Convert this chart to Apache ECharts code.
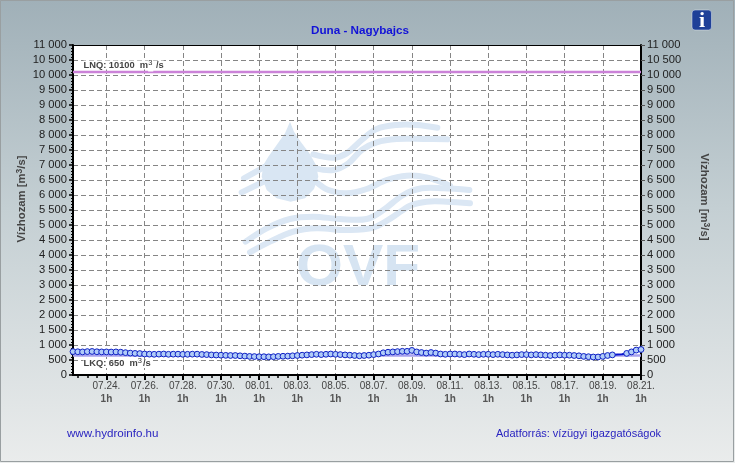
<!DOCTYPE html>
<html>
<head>
<meta charset="utf-8">
<style>html,body{margin:0;padding:0;background:#e8eaea}#c{width:735px;height:463px}</style>
<script src="https://cdn.jsdelivr.net/npm/echarts@6/dist/echarts.min.js"></script>
</head>
<body>
<div id="c"></div>
<script>
const days = ['07.22.','07.23.','07.24.','07.25.','07.26.','07.27.','07.28.','07.29.','07.30.','07.31.',
  '08.01.','08.02.','08.03.','08.04.','08.05.','08.06.','08.07.','08.08.','08.09.','08.10.','08.11.',
  '08.12.','08.13.','08.14.','08.15.','08.16.','08.17.','08.18.','08.19.','08.20.','08.21.'];
const hours = ['1h','7h','13h','19h'];
const discharge = [
  780,775,770,780,785,775,770,770,
  765,770,760,745,730,720,715,700,
  695,690,695,700,690,695,695,690,
  690,695,695,685,680,670,665,660,
  655,650,650,640,630,620,615,610,
  610,605,610,620,625,630,640,650,
  660,670,680,690,680,690,700,690,
  680,670,660,650,640,650,660,680,
  700,740,760,770,780,790,790,820,
  770,750,730,750,730,700,690,700,
  700,690,680,700,690,680,690,690,
  680,690,680,670,660,670,680,680,
  670,680,670,660,650,660,670,660,
  660,650,640,620,610,600,600,620,
  650,670,680,690,720,770,830,850];
const unmarked = [114,115];
const lnq = 10100;
const lkq = 650;
const yMax = 11000;
const yStep = 500;
const title = 'Duna - Nagybajcs';
const axisTitle = 'Vízhozam [m';
const leftNote = 'www.hydroinfo.hu';
const rightNote = 'Adatforrás: vízügyi igazgatóságok';

const categories = discharge.map((_, i) => days[Math.floor((i + 1) / 4)] + '\n' + hours[(i + 1) % 4]);
const isMajor = i => i % 8 === 7;
const isMinor = i => i % 2 === 1;
const fmt = v => String(v).replace(/\B(?=(\d{3})+$)/g, ' ');
const FONT = '"Liberation Sans", Arial, sans-serif';

const supRich = {
  n: {fontFamily: FONT, fontSize: 9.3, color: '#444', fontWeight: 'bold', backgroundColor: '#fff'},
  s: {fontFamily: FONT, fontSize: 7.5, color: '#333', verticalAlign: 'top', padding: [0, 1, 5, 0], backgroundColor: '#fff'}
};
const nameRich = {
  n: {fontFamily: FONT, fontSize: 11.3, color: '#444', fontWeight: 'bold'},
  s: {fontFamily: FONT, fontSize: 8.5, color: '#444', fontWeight: 'bold', padding: [0, 0, 5, 0]}
};
const yName = '{n|' + axisTitle + '}{s|3}{n|/s]}';

const chart = echarts.init(document.getElementById('c'), null, {renderer: 'canvas'});
const waveStyle = {stroke: '#dbe7f4', fill: null, lineWidth: 18, lineCap: 'round', lineJoin: 'round'};
const wave = pts => ({type: 'polyline', z: -1, silent: true, shape: {points: pts, smooth: 0.35}, style: waveStyle});
const splitStyle = {color: '#858585', type: [5, 3], width: 1};

chart.setOption({
  animation: false,
  backgroundColor: {type: 'linear', x: 0, y: 0, x2: 0, y2: 1, colorStops: [
    {offset: 0, color: '#a0b0b8'}, {offset: 0.45, color: '#c4cfd3'}, {offset: 1, color: '#eaecec'}]},
  title: {text: title, left: 306, top: 20,
    textStyle: {fontFamily: FONT, fontSize: 11.7, fontWeight: 'bold', color: '#1212d8'}},
  grid: {left: 73, right: 94, top: 45, bottom: 88, show: true, backgroundColor: '#fff', borderWidth: 0, z: -2},
  xAxis: [{
    type: 'category', data: categories, boundaryGap: false, z: 3,
    axisLine: {lineStyle: {color: '#000', width: 2}},
    axisTick: {interval: (i) => isMajor(i), length: 5, lineStyle: {color: '#000', width: 2}},
    axisLabel: {interval: (i) => isMajor(i), margin: 4, fontFamily: FONT,
      formatter: v => { const p = v.split('\n'); return '{d|' + p[0] + '}\n{h|' + p[1] + '}'; },
      rich: {
        d: {fontFamily: FONT, fontSize: 10, color: '#444', lineHeight: 14, align: 'center'},
        h: {fontFamily: FONT, fontSize: 10, color: '#555', lineHeight: 13, align: 'center', fontWeight: 'bold'}
      }},
    splitLine: {show: true, interval: (i) => isMajor(i), lineStyle: splitStyle}
  }, {
    type: 'category', data: categories, boundaryGap: false, position: 'bottom', z: 3,
    axisLine: {show: false},
    axisTick: {interval: (i) => isMinor(i), length: 3, lineStyle: {color: '#000', width: 1.5}},
    axisLabel: {show: false}, splitLine: {show: false}
  }, {
    type: 'category', data: categories, boundaryGap: false, position: 'top', z: 3,
    axisLine: {lineStyle: {color: '#000', width: 1}},
    axisTick: {show: false}, axisLabel: {show: false}, splitLine: {show: false}
  }],
  yAxis: [{
    type: 'value', min: 0, max: yMax, interval: yStep, position: 'left', z: 3,
    name: yName, nameLocation: 'middle', nameRotate: 90, nameGap: 44, nameMoveOverlap: false,
    nameTextStyle: {rich: nameRich, padding: [0, 0, 0, 22]},
    axisLine: {show: true, lineStyle: {color: '#000', width: 2}},
    axisTick: {show: true, length: 4, lineStyle: {color: '#000', width: 1.5}},
    minorTick: {show: true, splitNumber: 5, length: 2, lineStyle: {color: '#000', width: 1}},
    axisLabel: {margin: 6, formatter: fmt, fontFamily: FONT, fontSize: 11.2, color: '#222'},
    splitLine: {show: true, lineStyle: splitStyle}
  }, {
    type: 'value', min: 0, max: yMax, interval: yStep, position: 'right', z: 3,
    name: yName, nameLocation: 'middle', nameRotate: -90, nameGap: 56, nameMoveOverlap: false,
    nameTextStyle: {rich: nameRich, padding: [0, 26, 0, 0]},
    axisLine: {show: true, lineStyle: {color: '#000', width: 2}},
    axisTick: {show: true, length: 4, lineStyle: {color: '#555', width: 1}},
    axisLabel: {margin: 6, formatter: fmt, fontFamily: FONT, fontSize: 11.2, color: '#222'},
    splitLine: {show: false}
  }],
  series: [{
    type: 'line', name: 'LNQ', data: discharge.map(() => lnq), showSymbol: false, symbol: 'none', z: 4,
    lineStyle: {color: '#cb82d8', width: 2.5}, silent: true,
    markPoint: {symbol: 'circle', symbolSize: 0, silent: true,
      data: [{coord: [2, lnq], label: {show: true, position: 'right', distance: 0, offset: [1, -7],
        formatter: '{n|LNQ: ' + lnq + '  m}{s|3}{n| /s}', rich: supRich}}]}
  }, {
    type: 'line', name: 'LKQ', data: discharge.map(() => lkq), showSymbol: false, symbol: 'none', z: 4,
    lineStyle: {color: '#a8a2ee', width: 2.5}, silent: true,
    markPoint: {symbol: 'circle', symbolSize: 0, silent: true,
      data: [{coord: [2, lkq], label: {show: true, position: 'right', distance: 0, offset: [1, 8],
        formatter: '{n|LKQ: ' + lkq + '  m}{s|3}{n|/s}', rich: supRich}}]}
  }, {
    type: 'line', name: 'Vízhozam', z: 5, showAllSymbol: true, symbol: 'circle', symbolSize: 5.8,
    data: discharge.map((v, i) => unmarked.includes(i) ? {value: v, symbol: 'none'} : v),
    lineStyle: {color: '#0a14d0', width: 2},
    itemStyle: {color: '#b0ccf8', borderColor: '#0e20c4', borderWidth: 1}
  }],
  graphic: [
    {type: 'group', x: 230, y: 115, scaleX: 1 / 3, scaleY: 1 / 3, z: -1, silent: true, children: [
      wave([[250,118],[310,128],[350,115],[395,75],[440,42],[500,30],[560,30],[622,38]]),
      wave([[255,160],[310,165],[355,145],[395,105],[440,82],[500,72],[580,72],[652,73]]),
      wave([[42,190],[105,155]]),
      wave([[35,232],[105,198]]),
      wave([[258,200],[295,225],[350,235],[410,222],[470,195],[530,182],[590,187],[660,212]]),
      wave([[47,380],[110,340],[180,312],[250,305],[330,312],[410,312],[460,285],[520,240],[575,220],[640,220],[718,225]]),
      wave([[60,412],[120,380],[190,350],[260,340],[350,345],[430,338],[490,305],[540,272],[590,260],[650,260],[720,265]]),
      {type: 'polygon', z: -1, silent: true,
        shape: {points: [[180,20],[165,55],[140,90],[115,125],[100,150],[95,185],[110,225],[140,250],[182,260],
          [225,250],[252,222],[265,185],[258,150],[238,115],[212,80],[192,50]]},
        style: {fill: '#d9e6f3', stroke: null}}
    ]},
    {type: 'text', z: -1, silent: true, x: 296, y: 240, scaleX: 1.04,
      style: {text: 'OVF', fontFamily: FONT, fontWeight: 'bold', fontSize: 58, fill: '#d6e4f2'}},
    {type: 'text', silent: true, x: 67, y: 428,
      style: {text: leftNote, fontFamily: FONT, fontSize: 11.6, fill: '#2a24c0'}},
    {type: 'text', silent: true, x: 496, y: 428,
      style: {text: rightNote, fontFamily: FONT, fontSize: 11, fill: '#2a24c0'}},
    {type: 'rect', silent: true, shape: {x: 692, y: 10, width: 19.5, height: 20, r: 3},
      style: {fill: '#1f4098', stroke: '#dfe7ee', lineWidth: 0.5}},
    {type: 'text', silent: true, x: 702, y: 10, style: {text: 'i', align: 'center',
      fontFamily: '"Liberation Serif", serif', fontWeight: 'bold', fontSize: 22, fill: '#fff'}},
    {type: 'rect', silent: true, shape: {x: 0.5, y: 0.5, width: 733, height: 461},
      style: {fill: null, stroke: '#999fa1', lineWidth: 1}}
  ]
});
</script>
</body>
</html>
